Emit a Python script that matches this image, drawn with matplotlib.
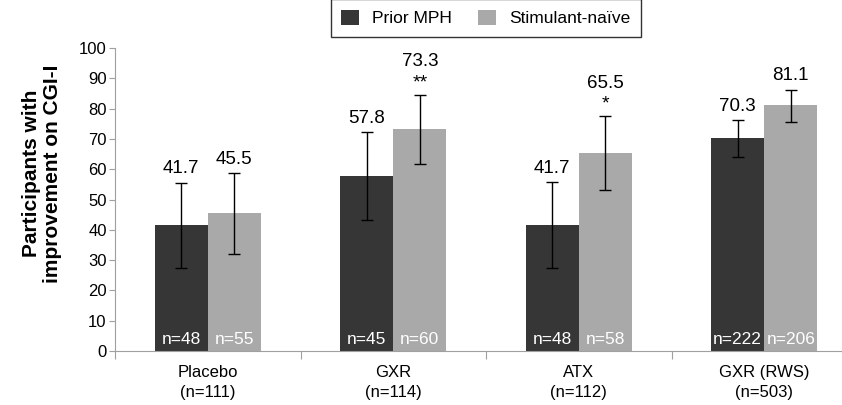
import numpy as np
import matplotlib.pyplot as plt

plt.rcParams["font.family"] = ["Liberation Sans", "DejaVu Sans"]

groups = ["Placebo\n(n=111)", "GXR\n(n=114)", "ATX\n(n=112)", "GXR (RWS)\n(n=503)"]
prior_mph = [41.7, 57.8, 41.7, 70.3]
naive = [45.5, 73.3, 65.5, 81.1]
prior_lo = [27.4, 43.2, 27.5, 64.0]
prior_hi = [55.6, 72.2, 55.7, 76.2]
naive_lo = [32.0, 61.8, 53.2, 75.7]
naive_hi = [58.7, 84.6, 77.6, 86.3]
prior_n = ["n=48", "n=45", "n=48", "n=222"]
naive_n = ["n=55", "n=60", "n=58", "n=206"]
naive_sig = ["", "**", "*", ""]

dark = "#363636"
light = "#a9a9a9"
axis_grey = "#a0a0a0"

fig = plt.figure(figsize=(8.42, 4.05), dpi=100)
ax = fig.add_axes([115 / 842, 1 - 351 / 405, 742 / 842, 303 / 405])

x = np.arange(len(groups))
w = 0.287

ax.bar(x - w / 2, prior_mph, w, color=dark, label="Prior MPH")
ax.bar(x + w / 2, naive, w, color=light, label="Stimulant-naïve")

p = np.array(prior_mph)
n = np.array(naive)
ax.errorbar(x - w / 2, p, yerr=[p - np.array(prior_lo), np.array(prior_hi) - p],
            fmt="none", ecolor="black", elinewidth=1, capsize=4, capthick=1)
ax.errorbar(x + w / 2, n, yerr=[n - np.array(naive_lo), np.array(naive_hi) - n],
            fmt="none", ecolor="black", elinewidth=1, capsize=4, capthick=1)

vfs = 13.5
for i in range(len(groups)):
    ax.text(x[i] - w / 2, prior_hi[i] + 1.8, f"{prior_mph[i]:.1f}", ha="center",
            va="bottom", fontsize=vfs)
    if naive_sig[i]:
        ax.text(x[i] + w / 2, naive_hi[i] + 1.0, naive_sig[i], ha="center",
                va="bottom", fontsize=14)
        ax.text(x[i] + w / 2, naive_hi[i] + 8, f"{naive[i]:.1f}", ha="center",
                va="bottom", fontsize=vfs)
    else:
        ax.text(x[i] + w / 2, naive_hi[i] + 1.8, f"{naive[i]:.1f}", ha="center",
                va="bottom", fontsize=vfs)
    ax.text(x[i] - w / 2, 1.2, prior_n[i], ha="center", va="bottom",
            fontsize=12.5, color="white")
    ax.text(x[i] + w / 2, 1.2, naive_n[i], ha="center", va="bottom",
            fontsize=12.5, color="white")

ax.set_xlim(-0.5, len(groups) - 0.5)
ax.set_ylim(0, 100)
ax.set_yticks(range(0, 101, 10))
ax.set_xticks(np.arange(-0.5, len(groups), 1.0))
ax.set_xticklabels([])
ax.set_xticks(x, minor=True)
ax.set_xticklabels(groups, minor=True, fontsize=12, linespacing=1.4)
ax.tick_params(axis="x", which="minor", length=0, pad=10)
ax.tick_params(axis="x", which="major", length=6, color=axis_grey)
ax.tick_params(axis="y", length=4, color=axis_grey, labelsize=12, pad=2)

for side in ["top", "right"]:
    ax.spines[side].set_visible(False)
for side in ["left", "bottom"]:
    ax.spines[side].set_color(axis_grey)

ax.set_ylabel("Participants with\nimprovement on CGI-I", fontsize=15,
              fontweight="bold", linespacing=1.1)
ax.yaxis.set_label_coords(-0.072, 0.585)

leg = ax.legend(loc="lower center", bbox_to_anchor=(0.5, 1.008), ncol=2,
                frameon=True, fancybox=False, fontsize=12.5, handlelength=1,
                handleheight=1, columnspacing=1.5, borderpad=0.6)
leg.get_frame().set_edgecolor("black")
leg.get_frame().set_linewidth(1)

fig.savefig("out.png", dpi=100)
